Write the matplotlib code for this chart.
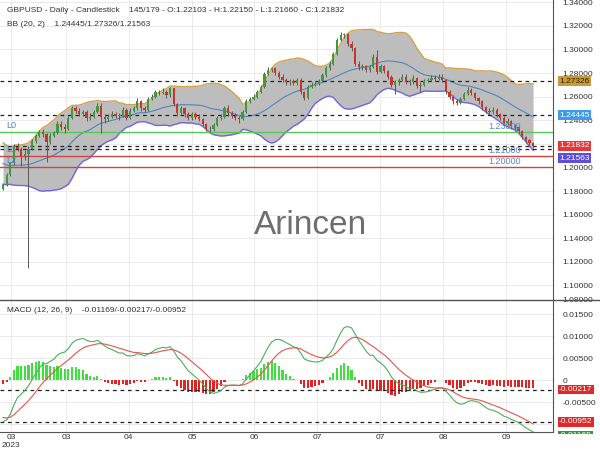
import numpy as np
import pandas as pd
import matplotlib
matplotlib.use("Agg")
import matplotlib.pyplot as plt
from matplotlib.patches import Rectangle
from matplotlib.lines import Line2D

plt.rcParams["font.family"] = ["Liberation Sans", "DejaVu Sans"]

###########
#  DATA   #
###########
# closes before the visible window (only used to warm up BB / MACD)
warmup_close = [
    1.2680, 1.2650, 1.2670, 1.2630, 1.2610, 1.2640, 1.2600, 1.2570, 1.2590, 1.2560,
    1.2530, 1.2550, 1.2510, 1.2490, 1.2520, 1.2480, 1.2450, 1.2470, 1.2430, 1.2410,
    1.2440, 1.2400, 1.2370, 1.2390, 1.2350, 1.2330, 1.2360, 1.2320, 1.2290, 1.2310,
    1.2270, 1.2250, 1.2280, 1.2240, 1.2210, 1.2240, 1.2200, 1.2180, 1.2210, 1.2170,
    1.2150, 1.2180, 1.2140, 1.2110, 1.2130, 1.2090, 1.2070, 1.2100, 1.2060, 1.2040,
    1.2070, 1.2030, 1.2010, 1.2040, 1.2000, 1.1980, 1.2010, 1.1970, 1.1950, 1.1820,
]

close = [
    1.1850, 1.1935, 1.2035, 1.2175, 1.2160, 1.2095, 1.2110, 1.2160, 1.2225, 1.2265,
    1.2300, 1.2280, 1.2215, 1.2270, 1.2290, 1.2370, 1.2340, 1.2330, 1.2420, 1.2500,
    1.2480, 1.2455, 1.2470, 1.2415, 1.2430, 1.2470, 1.2520, 1.2430, 1.2410, 1.2430,
    1.2450, 1.2440, 1.2440, 1.2490, 1.2420, 1.2480, 1.2500, 1.2560, 1.2500, 1.2490,
    1.2580, 1.2600, 1.2640, 1.2630, 1.2640, 1.2610, 1.2670, 1.2540, 1.2460, 1.2500,
    1.2450, 1.2420, 1.2450, 1.2430, 1.2410, 1.2370, 1.2330, 1.2325, 1.2360, 1.2420,
    1.2430, 1.2500, 1.2460, 1.2440, 1.2420, 1.2410, 1.2470, 1.2560, 1.2580, 1.2600,
    1.2640, 1.2680, 1.2790, 1.2830, 1.2840, 1.2800, 1.2770, 1.2740, 1.2720, 1.2730,
    1.2715, 1.2740, 1.2640, 1.2590, 1.2680, 1.2700, 1.2710, 1.2730, 1.2780, 1.2840,
    1.2880, 1.2960, 1.3080, 1.3120, 1.3130, 1.3050, 1.3010, 1.2880, 1.2850, 1.2860,
    1.2830, 1.2850, 1.2935, 1.2810, 1.2860, 1.2820, 1.2770, 1.2700, 1.2720, 1.2740,
    1.2770, 1.2730, 1.2720, 1.2760, 1.2690, 1.2700, 1.2730, 1.2740, 1.2760, 1.2750,
    1.2770, 1.2740, 1.2640, 1.2600, 1.2560, 1.2550, 1.2580, 1.2620, 1.2660, 1.2630,
    1.2590, 1.2560, 1.2510, 1.2480, 1.2470, 1.2490, 1.2450, 1.2420, 1.2380, 1.2390,
    1.2350, 1.2340, 1.2310, 1.2260, 1.2230, 1.22103, 1.21832,
]

high = [
    1.1870, 1.1950, 1.2050, 1.2200, 1.2205, 1.2170, 1.2150, 1.2185, 1.2240, 1.2285,
    1.2320, 1.2330, 1.2290, 1.2290, 1.2310, 1.2390, 1.2390, 1.2370, 1.2440, 1.2525,
    1.2520, 1.2500, 1.2490, 1.2485, 1.2460, 1.2490, 1.2545, 1.2545, 1.2450, 1.2455,
    1.2475, 1.2470, 1.2460, 1.2510, 1.2505, 1.2500, 1.2520, 1.2585, 1.2575, 1.2520,
    1.2600, 1.2620, 1.2660, 1.2660, 1.2670, 1.2655, 1.2680, 1.2675, 1.2550, 1.2520,
    1.2510, 1.2470, 1.2470, 1.2470, 1.2450, 1.2420, 1.2380, 1.2350, 1.2380, 1.2440,
    1.2450, 1.2520, 1.2530, 1.2480, 1.2460, 1.2440, 1.2490, 1.2580, 1.2600, 1.2620,
    1.2660, 1.2700, 1.2810, 1.2850, 1.2850, 1.2850, 1.2820, 1.2790, 1.2760, 1.2750,
    1.2750, 1.2760, 1.2760, 1.2650, 1.2700, 1.2720, 1.2730, 1.2750, 1.2800, 1.2860,
    1.2900, 1.2975, 1.3100, 1.3145, 1.3140, 1.3140, 1.3070, 1.3020, 1.2900, 1.2880,
    1.2870, 1.2870, 1.2960, 1.2995, 1.2880, 1.2870, 1.2830, 1.2780, 1.2740, 1.2760,
    1.2790, 1.2790, 1.2750, 1.2780, 1.2770, 1.2720, 1.2750, 1.2760, 1.2780, 1.2780,
    1.2790, 1.2790, 1.2750, 1.2660, 1.2610, 1.2580, 1.2600, 1.2640, 1.2680, 1.2670,
    1.2640, 1.2600, 1.2570, 1.2520, 1.2500, 1.2510, 1.2500, 1.2460, 1.2440, 1.2420,
    1.2400, 1.2370, 1.2350, 1.2320, 1.2270, 1.2240, 1.22150,
]

low = [
    1.1805, 1.1840, 1.1925, 1.2025, 1.2140, 1.2015, 1.2060, 1.1150, 1.2150, 1.2210,
    1.2255, 1.2260, 1.2050, 1.2200, 1.2255, 1.2280, 1.2320, 1.2290, 1.2320, 1.2410,
    1.2460, 1.2440, 1.2440, 1.2390, 1.2400, 1.2420, 1.2460, 1.2290, 1.2380, 1.2395,
    1.2420, 1.2420, 1.2400, 1.2430, 1.2400, 1.2410, 1.2470, 1.2490, 1.2480, 1.2470,
    1.2480, 1.2570, 1.2590, 1.2610, 1.2620, 1.2590, 1.2600, 1.2520, 1.2440, 1.2450,
    1.2430, 1.2400, 1.2400, 1.2410, 1.2390, 1.2350, 1.2310, 1.2300, 1.2310, 1.2350,
    1.2400, 1.2420, 1.2440, 1.2420, 1.2400, 1.2380, 1.2400, 1.2460, 1.2545, 1.2570,
    1.2590, 1.2630, 1.2670, 1.2780, 1.2810, 1.2780, 1.2750, 1.2720, 1.2700, 1.2700,
    1.2700, 1.2700, 1.2620, 1.2570, 1.2580, 1.2670, 1.2690, 1.2700, 1.2720, 1.2770,
    1.2830, 1.2870, 1.2950, 1.3070, 1.3100, 1.3030, 1.2990, 1.2860, 1.2830, 1.2830,
    1.2810, 1.2810, 1.2840, 1.2790, 1.2800, 1.2800, 1.2750, 1.2680, 1.2620, 1.2700,
    1.2730, 1.2710, 1.2700, 1.2710, 1.2670, 1.2640, 1.2690, 1.2720, 1.2730, 1.2730,
    1.2740, 1.2720, 1.2620, 1.2580, 1.2540, 1.2530, 1.2540, 1.2570, 1.2610, 1.2610,
    1.2570, 1.2540, 1.2490, 1.2460, 1.2450, 1.2450, 1.2430, 1.2400, 1.2360, 1.2360,
    1.2330, 1.2310, 1.2290, 1.2240, 1.2210, 1.2190, 1.21660,
]

tick_pos = [2.3, 17.4, 34.6, 52.1, 69.1, 86.5, 103.9, 121.2, 138.6]
tick_labels = ["03\n2023", "03", "04", "05", "06", "07", "07", "08", "09"]

price_ticks = [1.08, 1.10, 1.12, 1.14, 1.16, 1.18, 1.20, 1.22, 1.24, 1.26,
               1.28, 1.30, 1.32, 1.34]
macd_ticks = [-0.01, -0.005, 0, 0.005, 0.01, 0.015]
# tick labels that sit under a value tag in the reference
hidden_price = [1.22]
hidden_macd = [-0.01]

# last values shown in the headers / right-hand tags
last_close = 1.21832
bb_mid_last, bb_up_last, bb_low_last = 1.24445, 1.27326, 1.21563
macd_last, hist_last, signal_last = -0.01169, -0.00217, -0.00952

green_levels = [1.23]
red_levels = [1.21, 1.20]

header = ("GBPUSD - Daily - Candlestick    145/179 - O:1.22103 - H:1.22150 - "
          "L:1.21660 - C:1.21832")
bb_header = "BB (20, 2)    1.24445/1.27326/1.21563"
macd_header = "MACD (12, 26, 9)    -0.01169/-0.00217/-0.00952"

##############
# INDICATORS #
##############
full = pd.Series(warmup_close + close)
mid = full.rolling(20).mean()
sd = full.rolling(20).std(ddof=0)
upper = mid + 2 * sd
lower = mid - 2 * sd
ema12 = full.ewm(span=12, adjust=False).mean()
ema26 = full.ewm(span=26, adjust=False).mean()
macd = ema12 - ema26
signal = macd.ewm(span=9, adjust=False).mean()
hist = macd - signal

nw = len(warmup_close)
mid, upper, lower = mid[nw:].values, upper[nw:].values, lower[nw:].values
macd, signal, hist = macd[nw:].values, signal[nw:].values, hist[nw:].values

x = np.arange(len(close))
opens = np.array([warmup_close[-1]] + close[:-1])
closes = np.array(close)

#########
# PLOT  #
#########
W, H = 600, 450
fig = plt.figure(figsize=(6, 4.5), dpi=100)
ax = fig.add_axes([0, 150 / H, 553 / W, 300 / H])
ax2 = fig.add_axes([0, 18 / H, 553 / W, 132 / H], sharex=ax)

text_col = "#333333"
up_col, dn_col = "#3a9d3a", "#c8352c"

# bollinger bands
ax.fill_between(x, lower, upper, color="#bdbdbd", lw=0, zorder=1)
ax.plot(x, upper, color="#d4a24a", lw=1, zorder=2)
ax.plot(x, lower, color="#7466e0", lw=1, zorder=2)
ax.plot(x, mid, color="#4f86bd", lw=0.8, zorder=2)

# level lines
for lv in green_levels:
    ax.axhline(lv, color="#55c855", lw=1, zorder=2)
for lv in red_levels:
    ax.axhline(lv, color="#cc4545", lw=1, zorder=2)
for lv in [bb_up_last, bb_mid_last, last_close, bb_low_last]:
    ax.axhline(lv, color="#222222", lw=0.9, ls=(0, (3, 3)), zorder=2.5)

# candles
cols = [up_col if c >= o else dn_col for o, c in zip(opens, closes)]
ax.vlines(x, low, high, color="#5a5a5a", lw=0.7, zorder=3)
body = np.maximum(np.abs(closes - opens), 0.0004)
ax.bar(x, body, bottom=np.minimum(opens, closes), width=0.62, color=cols, zorder=4)

# level labels
for lv, lab in [(1.23, "1.23000"), (1.21, "1.21000"), (1.20, "1.20000")]:
    ax.annotate(lab, xy=(133.6, lv), xytext=(0, 1), textcoords="offset pixels",
                color="#5b85c4", fontsize=6.5, va="bottom", ha="left", zorder=6)
for lv, lab in [(1.23, "L0"), (1.21, "L1"), (1.20, "L2")]:
    ax.annotate(lab, xy=(0.8, lv), xytext=(0, 2), textcoords="offset pixels",
                color="#4f7fc0", fontsize=6.5, va="bottom", ha="left", zorder=6)

ax.set_yticks(price_ticks)
ax.set_yticklabels(["" if v in hidden_price else "%.5f" % v for v in price_ticks])
ax.set_xticks(tick_pos)

# MACD panel
hcols = ["#3ee03e" if h >= 0 else "#e02424" for h in hist]
ax2.bar(x, hist, width=0.6, color=hcols, zorder=2)
ax2.plot(x, macd, color="#4cae5c", lw=0.8, zorder=3)
ax2.plot(x, signal, color="#e0574a", lw=0.8, zorder=3)
for lv in [hist_last, signal_last]:
    ax2.axhline(lv, color="#222222", lw=0.9, ls=(0, (3, 3)), zorder=2.5)
ax2.set_yticks(macd_ticks)
ax2.set_yticklabels(["" if v in hidden_macd else ("0" if v == 0 else "%.5f" % v)
                     for v in macd_ticks])
ax2.set_xticks(tick_pos)
ax2.set_xticklabels(tick_labels, linespacing=1.15)

# limits after the ticks (set_yticks may widen the view)
ax.set_xlim(-0.83, 151.5)
ax.set_ylim(1.0877, 1.3419)
ax2.set_ylim(-0.0118, 0.0182)

for a in (ax, ax2):
    a.set_axisbelow(True)
    a.grid(True, color="#e6e6e6", lw=0.6)
    for s in ("left", "top", "bottom"):
        a.spines[s].set_visible(False)
    a.spines["right"].set_color("#555555")
    a.yaxis.tick_right()
    a.tick_params(axis="y", length=0, pad=7, labelsize=6, labelcolor=text_col)
    a.tick_params(axis="x", length=0, pad=1.5, labelsize=6, labelcolor=text_col)
ax.tick_params(axis="x", labelbottom=False)
ax2.spines["bottom"].set_visible(True)
ax2.spines["bottom"].set_color("#555555")


# right-hand value tags
def tag(a, y, txt, fc, tc="white", dy=0):
    a.annotate(txt, xy=(1, y), xycoords=("axes fraction", "data"),
               xytext=(6, dy), textcoords="offset pixels", ha="left", va="center",
               fontsize=6, color=tc, annotation_clip=False, zorder=10,
               bbox=dict(boxstyle="square,pad=0.15", fc=fc, ec="none"))


tag(ax, bb_up_last, "%.5f" % bb_up_last, "#c99a3b", tc="#2b2000")
tag(ax, bb_mid_last, "%.5f" % bb_mid_last, "#3d9be9")
tag(ax, last_close, "%.5f" % last_close, "#e03a3a")
tag(ax, bb_low_last, "%.5f" % bb_low_last, "#5d4fd8", dy=-9)
tag(ax2, hist_last, "%.5f" % hist_last, "#e02a2a")
tag(ax2, signal_last, "%.5f" % signal_last, "#e02a2a")
tag(ax2, macd_last, "%.5f" % macd_last, "#2e9a3a", dy=-4)

# cut the bottom tag like the reference does
fig.patches.append(Rectangle((553 / W, 0), 47 / W, 16 / H, transform=fig.transFigure,
                             fc="white", ec="none", zorder=20))
# lowest price label sits on the panel separator
fig.text(562 / W, 1 - 300 / H, "1.08000", fontsize=6, color=text_col, va="center")
fig.lines.append(Line2D([0, 1], [150 / H, 150 / H], transform=fig.transFigure,
                        color="#555555", lw=1, zorder=20))

# headers and watermark
fig.text(7 / W, 1 - 10 / H, header, fontsize=6, color=text_col, va="center")
fig.text(7 / W, 1 - 25 / H, bb_header, fontsize=6, color=text_col, va="center")
fig.text(7 / W, 1 - 311 / H, macd_header, fontsize=6, color=text_col, va="center")
fig.text(311 / W, 1 - 226 / H, "Arincen", fontsize=24, color="#555555",
         ha="center", va="center", alpha=0.85)

fig.savefig("out.png", dpi=100)
